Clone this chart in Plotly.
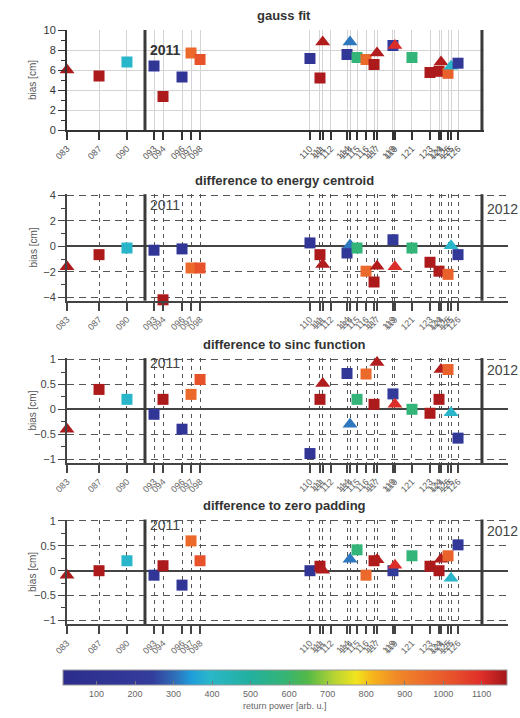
import plotly.graph_objects as go

# ---------------- data ----------------
x_pos = [83.0, 86.52, 89.59, 92.56, 93.55, 95.64, 96.63, 97.62, 109.70, 110.80, 111.10,
         113.77, 114.10, 114.87, 115.86, 116.74, 117.07, 118.82, 119.04, 120.91,
         122.89, 123.88, 124.10, 124.87, 125.20, 125.97]
symbols = ["triangle-up", "square", "square", "square", "square", "square", "square", "square",
           "square", "square", "triangle-up", "square", "triangle-up", "square", "square",
           "square", "triangle-up", "square", "triangle-up", "square", "square", "square",
           "triangle-up", "square", "triangle-up", "square"]
power = [1155, 1155, 390, 150, 1155, 150, 960, 1020, 150, 1155, 1150, 170, 310, 580, 960,
         1155, 1150, 220, 1100, 580, 1155, 1155, 1150, 980, 390, 180]

gauss = [6.0, 5.4, 6.8, 6.4, 3.35, 5.3, 7.7, 7.05, 7.15, 5.2, 8.8, 7.55, 8.8, 7.25, 7.05,
         6.55, 7.7, 8.45, 8.45, 7.25, 5.75, 5.87, 6.8, 5.67, 6.37, 6.68]
energy = [-1.6, -0.65, -0.13, -0.3, -4.2, -0.2, -1.7, -1.7, 0.27, -0.65, -1.43, -0.52, 0.1,
          -0.13, -1.95, -2.8, -1.56, 0.52, -1.6, -0.13, -1.25, -1.95, -2.0, -2.2, 0.05, -0.65]
sinc = [-0.4, 0.4, 0.2, -0.1, 0.2, -0.4, 0.3, 0.6, -0.89, 0.2, 0.52, 0.72, -0.3, 0.2, 0.71,
        0.1, 0.94, 0.31, 0.1, 0.0, -0.08, 0.2, 0.8, 0.8, -0.07, -0.58]
zero_pad = [-0.09, 0.0, 0.2, -0.09, 0.1, -0.29, 0.6, 0.2, 0.0, 0.09, 0.01, 1.1, 0.23, 0.42,
            -0.09, 0.2, 0.22, 0.0, 0.11, 0.3, 0.09, 0.0, 0.23, 0.3, -0.15, 0.52]

tick_vals = [83.0, 86.52, 89.59, 92.56, 93.55, 95.64, 96.63, 97.62, 109.70, 110.80, 111.10,
             112.01, 113.77, 114.10, 114.87, 115.86, 116.74, 117.07, 118.82, 119.04, 120.91,
             122.89, 123.88, 124.10, 124.87, 125.20, 125.97]
tick_text = ["083", "087", "090", "093", "094", "096", "097", "098", "110", "111", "111",
             "112", "114", "114", "115", "116", "117", "117", "119", "119", "121",
             "123", "124", "124", "125", "125", "126"]

year_pos = [91.57, 128.6]
year_labels = ["2011", "2012"]

titles = ["gauss fit", "difference to energy centroid", "difference to sinc function",
          "difference to zero padding"]
colorbar_ticks = [100, 200, 300, 400, 500, 600, 700, 800, 900, 1000, 1100]

# ---------------- layout helpers ----------------
W, H = 520, 718
def px_x(p):
    return p / W
def px_y(p):
    return 1 - p / H

colorscale = [
    [0.00, "#2c2d8c"], [0.20, "#343c9c"], [0.25, "#2f6cb6"], [0.29, "#1f9edb"],
    [0.33, "#2ab7c9"], [0.42, "#22b0a0"], [0.50, "#35b474"], [0.55, "#52b848"],
    [0.61, "#b5d334"], [0.66, "#f2e41e"], [0.70, "#f6b21c"], [0.75, "#f08a28"],
    [0.82, "#ec6a2c"], [0.88, "#e6502a"], [0.94, "#e0302a"], [1.00, "#a4161a"],
]

series = [gauss, energy, sinc, zero_pad]
panels = [
    dict(top=30.0, bottom=130.0, rng=[0, 10.0], right=484),
    dict(top=194.2, bottom=300.7, rng=[-4.27, 4.1], right=508),
    dict(top=358.1, bottom=463.0, rng=[-1.08, 1.03], right=508),
    dict(top=519.5, bottom=624.4, rng=[-1.08, 1.03], right=508),
]
px_per_unit = 9.1
left_px = 67.0

fig = go.Figure()
font_family = "Liberation Sans, Arial, sans-serif"

for i, (vals, p) in enumerate(zip(series, panels)):
    n = "" if i == 0 else str(i + 1)
    fig.add_trace(go.Scatter(
        x=x_pos, y=vals, mode="markers", xaxis="x" + n, yaxis="y" + n,
        cliponaxis=False, showlegend=False,
        marker=dict(symbol=symbols, size=[13 if s == "triangle-up" else 11 for s in symbols],
                    color=power, coloraxis="coloraxis", opacity=1, line=dict(width=0)),
    ))
    xr = [83.0, 83.0 + (p["right"] - left_px) / px_per_unit]
    xdom = [px_x(left_px), px_x(p["right"])]
    ydom = [px_y(p["bottom"]), px_y(p["top"])]
    if i == 0:
        xax = dict(domain=xdom, range=xr, anchor="y" + n, tickvals=tick_vals, ticktext=tick_text,
                   tickangle=-45, showgrid=True, gridcolor="#d4d4d4", gridwidth=1,
                   showline=True, linecolor="#333", linewidth=2, ticks="outside", ticklen=8,
                   tickcolor="#333", tickwidth=2, zeroline=False, automargin=False,
                   tickfont=dict(size=9, color="#555"))
        yax = dict(domain=ydom, range=p["rng"], anchor="x" + n, tickvals=[0, 2, 4, 6, 8, 10],
                   showgrid=True, gridcolor="#d4d4d4", showline=True, linecolor="#333",
                   linewidth=2, ticks="outside", ticklen=7, tickcolor="#333", zeroline=False,
                   automargin=False,
                   minor=dict(ticks="outside", ticklen=4, tickcolor="#333", dtick=1, showgrid=False),
                   tickfont=dict(size=11, color="#333"))
    else:
        if i == 1:
            yt = [-4, -2, 0, 2, 4]
            md = 1
        else:
            yt = [-1, -0.5, 0, 0.5, 1]
            md = 0.25
        xax = dict(domain=xdom, range=xr, anchor="y" + n, tickvals=tick_vals, ticktext=tick_text,
                   tickangle=-45, showgrid=True, gridcolor="#555", gridwidth=1, griddash="4px,4px",
                   showline=True, linecolor="#444", linewidth=2, ticks="outside", ticklen=8,
                   tickcolor="#444", tickwidth=2, zeroline=False, automargin=False,
                   tickfont=dict(size=9, color="#666"))
        yax = dict(domain=ydom, range=p["rng"], anchor="x" + n, tickvals=yt,
                   showgrid=True, gridcolor="#555", gridwidth=1, griddash="7px,5px",
                   showline=True, linecolor="#444", linewidth=2, ticks="outside", ticklen=7,
                   tickcolor="#444", zeroline=True, zerolinecolor="#444", zerolinewidth=2,
                   automargin=False,
                   minor=dict(ticks="outside", ticklen=4, tickcolor="#444", dtick=md, showgrid=False),
                   tickfont=dict(size=11, color="#444"))
    fig.layout["xaxis" + n] = xax
    fig.layout["yaxis" + n] = yax

    for yp in year_pos:
        fig.add_shape(type="line", xref="x" + n, yref="y" + n + " domain",
                      x0=yp, x1=yp, y0=0, y1=1, line=dict(color="#3a3a3a", width=3), layer="above")
    if i == 0:
        pos11, pos12 = 0.80, 0.78
        yfont = dict(size=14, color="#333", family=font_family)
        labels = ["<b>2011</b>", "<b>2012</b>"]
    else:
        pos11, pos12 = (0.90, 0.86) if i == 1 else (0.95, 0.89)
        yfont = dict(size=14, color="#444", family=font_family)
        labels = year_labels
    for yp, yl, yy in zip(year_pos, labels, [pos11, pos12]):
        fig.add_annotation(x=yp + 0.35, y=yy, xref="x" + n, yref="y" + n + " domain",
                           text=yl, showarrow=False, xanchor="left", yanchor="middle",
                           font=yfont, bgcolor="rgba(255,255,255,0)")
    fig.add_annotation(x=px_x(284), y=px_y(p["top"] - 14), xref="paper", yref="paper",
                       text="<b>" + titles[i] + "</b>", showarrow=False,
                       xanchor="center", yanchor="middle",
                       font=dict(size=13, color="#333", family=font_family))
    fig.add_annotation(x=px_x(33), y=(ydom[0] + ydom[1]) / 2, xref="paper", yref="paper",
                       text="bias [cm]", textangle=-90, showarrow=False,
                       xanchor="center", yanchor="middle",
                       font=dict(size=10, color="#555", family=font_family))

fig.update_layout(
    width=W, height=H, autosize=False,
    margin=dict(l=0, r=0, t=0, b=0, autoexpand=False),
    paper_bgcolor="white", plot_bgcolor="white",
    font=dict(family=font_family, color="#444"),
    coloraxis=dict(
        colorscale=colorscale, cmin=12, cmax=1165,
        colorbar=dict(
            orientation="h", x=px_x((62.7 + 506.7) / 2), xanchor="center",
            len=(506.7 - 62.7) / W, lenmode="fraction",
            y=px_y(670), yanchor="top", thickness=15, thicknessmode="pixels",
            xpad=0, ypad=0, outlinewidth=1, outlinecolor="#999",
            tickvals=colorbar_ticks, ticks="inside", ticklen=4, tickcolor="#777",
            tickfont=dict(size=9, color="#666"),
            title=dict(text="return power [arb. u.]", side="bottom",
                       font=dict(size=9, color="#666")),
        ),
    ),
)

fig.write_html("out.html", config={"displayModeBar": False},
               post_script="document.body.style.margin='0';document.body.style.overflow='hidden';")
